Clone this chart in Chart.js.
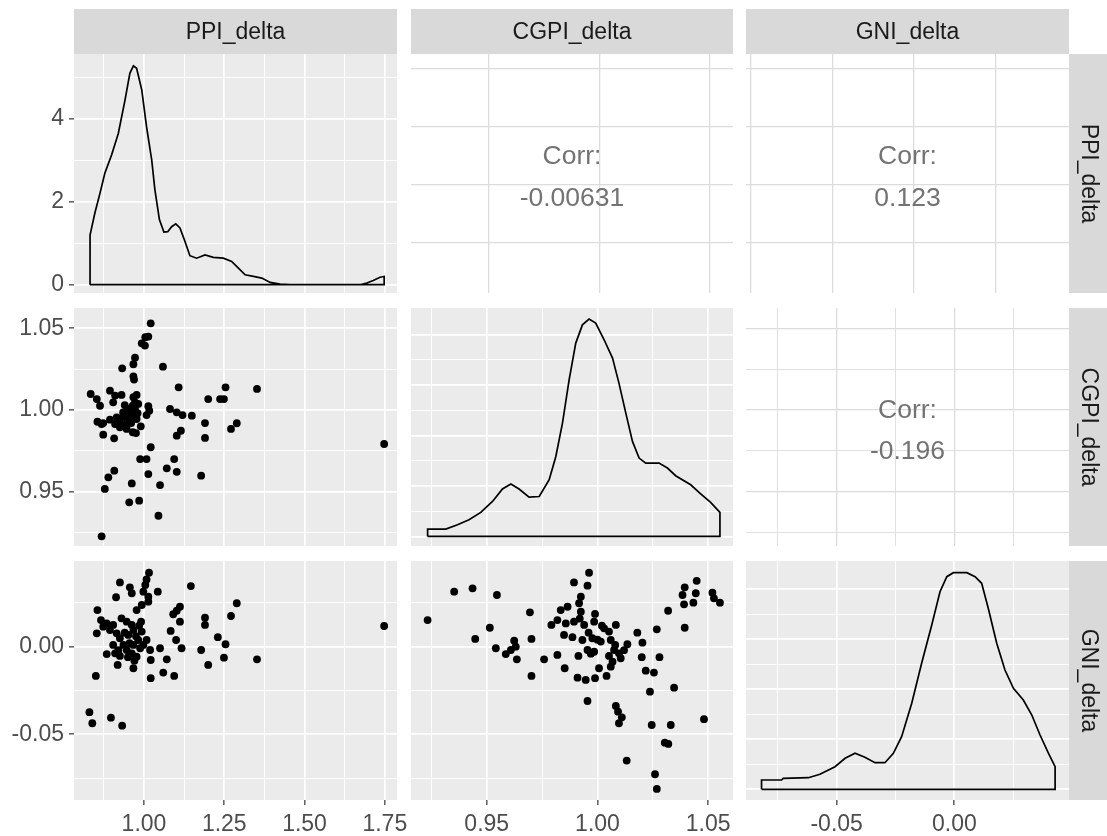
<!DOCTYPE html>
<html>
<head>
<meta charset="utf-8">
<script src="https://cdn.jsdelivr.net/npm/chart.js@4.4.1/dist/chart.umd.min.js"></script>
<style>
  body { margin: 0; background: #fff; }
  #wrap { position: relative; width: 1107px; height: 836px; }
  #wrap canvas { position: absolute; left: 0; top: 0; }
</style>
</head>
<body>
<div id="wrap"></div>
<script>
// ---------- data ----------
const varNames = ['PPI_delta', 'CGPI_delta', 'GNI_delta'];
const corrValues = ['-0.00631', '0.123', '-0.196']; // PPI~CGPI, PPI~GNI, CGPI~GNI

const ppiBreaks = [1.00, 1.25, 1.50, 1.75];
const ppiLabels = ['1.00', '1.25', '1.50', '1.75'];
const ppiMinor = [0.875, 1.125, 1.375, 1.625];
const cgpiBreaks = [0.95, 1.00, 1.05];
const cgpiLabels = ['0.95', '1.00', '1.05'];
const cgpiMinor = [0.925, 0.975, 1.025];
const gniBreaks = [-0.05, 0.00];
const gniLabels = ['-0.05', '0.00'];
const gniMinor = [-0.075, -0.025, 0.025];
const densBreaks = [0, 2, 4];
const densLabels = ['0', '2', '4'];
const densMinor = [1, 3, 5];
const dens2Breaks = [0, 5, 10, 15, 20];
const dens2Minor = [2.5, 7.5, 12.5, 17.5];

// diagonal densities
const ppiDensX = [0.832, 0.847, 0.863, 0.878, 0.899, 0.920, 0.941, 0.956, 0.967, 0.977, 0.993, 1.008, 1.024, 1.034, 1.048, 1.062, 1.074, 1.086, 1.099, 1.112, 1.126, 1.143, 1.164, 1.190, 1.216, 1.247, 1.273, 1.294, 1.315, 1.341, 1.367, 1.393, 1.424, 1.455, 1.673, 1.694, 1.714, 1.735, 1.748];
const ppiDensY = [1.20, 1.73, 2.21, 2.69, 3.13, 3.65, 4.46, 5.10, 5.28, 5.22, 4.70, 3.81, 3.01, 2.29, 1.57, 1.27, 1.28, 1.40, 1.47, 1.37, 1.08, 0.70, 0.64, 0.72, 0.66, 0.64, 0.56, 0.40, 0.24, 0.20, 0.16, 0.055, 0.016, 0, 0, 0.04, 0.10, 0.18, 0.20];

const cgpiDensX = [0.9233, 0.9315, 0.9368, 0.9420, 0.9473, 0.9526, 0.9571, 0.9609, 0.9646, 0.9691, 0.9737, 0.9782, 0.9812, 0.9842, 0.9872, 0.9902, 0.9932, 0.9962, 0.9992, 1.0030, 1.0068, 1.0097, 1.0128, 1.0158, 1.0188, 1.0218, 1.0278, 1.0316, 1.0353, 1.0421, 1.0466, 1.0511, 1.0553];
const cgpiDensY = [0.73, 0.73, 1.16, 1.65, 2.38, 3.47, 4.70, 5.19, 4.70, 3.90, 3.96, 5.62, 7.93, 11.24, 15.53, 19.17, 20.98, 21.55, 21.15, 19.50, 17.68, 15.20, 12.23, 9.42, 7.77, 7.27, 7.27, 6.78, 6.02, 5.12, 4.23, 3.37, 2.38];

const gniDensX = [-0.0819, -0.0734, -0.0727, -0.0620, -0.0571, -0.0507, -0.0464, -0.0422, -0.0380, -0.0337, -0.0295, -0.0259, -0.0224, -0.0181, -0.0139, -0.0096, -0.0061, -0.0032, -0.0004, 0.0053, 0.0088, 0.0116, 0.0144, 0.0180, 0.0215, 0.0251, 0.0293, 0.0329, 0.0364, 0.0400, 0.0428];
const gniDensY = [0.93, 0.93, 1.10, 1.16, 1.50, 2.26, 3.10, 3.60, 3.20, 2.66, 2.66, 3.60, 5.26, 8.60, 12.60, 16.43, 19.76, 21.26, 21.66, 21.66, 21.26, 20.60, 18.10, 14.60, 11.93, 10.10, 8.93, 7.43, 5.43, 3.60, 2.26];

// lower panels: [x, y]
const ppiVsCgpi = [[1.021,1.053],[1.0135,1.0449],[1.004,1.0445],[0.993,1.0408],[1.003,1.0394],[0.972,1.032],[0.967,1.028],[0.932,1.0255],[1.059,1.0265],[0.967,1.0206],[0.969,1.0186],[1.108,1.0139],[1.254,1.0139],[1.352,1.0129],[1.200,1.0067],[1.237,1.0067],[1.249,1.0067],[0.834,1.0098],[0.853,1.0067],[0.863,1.0026],[0.894,1.0118],[0.910,1.0088],[0.930,1.0092],[0.904,1.0047],[0.977,1.0092],[0.972,1.0047],[0.962,1.0017],[1.0135,1.0023],[1.0165,0.9996],[1.008,0.9969],[1.081,1.0006],[1.102,0.9986],[1.120,0.9969],[1.149,0.9965],[0.855,0.9928],[0.873,0.992],[0.894,0.9941],[0.915,0.9955],[0.925,0.9935],[0.941,0.9965],[0.951,0.9986],[0.956,0.9935],[0.946,0.9914],[0.930,0.9908],[0.910,0.9914],[0.967,0.9965],[0.972,1.0006],[0.982,1.0037],[0.873,0.9849],[0.907,0.9827],[0.965,0.9864],[0.975,0.9859],[0.990,0.990],[1.190,0.992],[1.190,0.9829],[1.271,0.9884],[1.289,0.9919],[1.115,0.9873],[1.102,0.9843],[1.021,0.9772],[0.988,0.970],[1.008,0.970],[1.094,0.970],[1.071,0.9643],[1.102,0.9622],[1.0135,0.9608],[1.178,0.9598],[0.9075,0.9629],[0.889,0.9588],[0.878,0.9517],[0.962,0.9551],[1.050,0.9541],[0.954,0.9435],[0.985,0.9445],[1.045,0.9353],[0.868,0.9227],[1.748,0.9792],[0.920,0.9935],[0.936,0.9955],[0.959,0.9976],[0.965,1.0026],[0.977,0.9945],[0.946,0.9884],[0.925,0.9894],[0.967,1.0078],[0.868,0.9914],[0.950,1.0000],[0.960,0.9920],[0.940,1.0030],[0.980,0.9980],[0.955,0.9960],[0.935,0.9985]];

const ppiVsGni = [[1.0156,0.0422],[1.008,0.0384],[1.004,0.0352],[0.925,0.0367],[0.956,0.0339],[0.962,0.0305],[0.913,0.0282],[0.998,0.0314],[1.0135,0.0285],[1.043,0.0314],[1.146,0.0346],[1.0135,0.0257],[0.993,0.0238],[0.977,0.0209],[0.855,0.0209],[1.289,0.0248],[1.112,0.0228],[1.102,0.0205],[1.091,0.0185],[1.271,0.0175],[1.190,0.0165],[1.190,0.0124],[1.112,0.0143],[0.991,0.0143],[0.866,0.0152],[0.884,0.0133],[0.904,0.0124],[0.930,0.0162],[0.946,0.0143],[1.748,0.0118],[0.853,0.0076],[1.083,0.0090],[1.230,0.0054],[1.100,0.0038],[1.254,0.0014],[1.117,-0.0009],[1.050,-0.0009],[1.178,-0.0019],[1.008,0.0038],[1.019,-0.0019],[1.021,-0.0076],[1.071,-0.0072],[1.249,-0.0063],[1.352,-0.0072],[1.200,-0.0104],[0.918,-0.0104],[0.967,-0.0123],[1.060,-0.0148],[1.094,-0.0167],[1.021,-0.018],[0.850,-0.0167],[0.884,-0.0042],[0.910,-0.0038],[0.925,-0.0053],[0.946,-0.0019],[0.962,-0.0038],[0.977,-0.0057],[0.988,-0.0009],[0.904,0.001],[0.925,0.0048],[0.951,0.0067],[0.967,0.0095],[0.982,0.0038],[0.936,0.001],[0.967,0.001],[0.998,0.001],[0.830,-0.0374],[0.839,-0.0437],[0.897,-0.0405],[0.932,-0.0451],[0.873,0.0114],[0.894,0.0095],[0.915,0.0076],[0.962,0.0124],[0.993,0.0086],[0.940,0.0080],[0.955,0.0020],[0.975,0.0060],[0.985,0.0120],[0.920,-0.0020],[0.950,-0.0060],[0.970,-0.0080]];

const cgpiVsGni = [[0.9962,0.0422],[0.9894,0.0367],[0.9955,0.0348],[0.9353,0.0314],[0.9436,0.0333],[0.9546,0.0295],[0.9925,0.0285],[0.9917,0.0248],[1.0448,0.0376],[1.0394,0.0339],[1.0384,0.0295],[1.0444,0.0305],[1.0519,0.0308],[1.0526,0.0276],[1.0553,0.0251],[1.0433,0.0251],[1.0391,0.0242],[1.0319,0.0205],[0.9695,0.0196],[0.9834,0.0209],[0.9865,0.0228],[0.9925,0.0200],[0.9989,0.0187],[0.9233,0.0152],[0.9514,0.0108],[0.9792,0.0124],[0.9819,0.0152],[0.9857,0.0133],[0.9894,0.0143],[0.9940,0.0124],[0.9985,0.0143],[1.0030,0.0105],[1.0083,0.0124],[1.0052,0.0086],[1.0268,0.0099],[1.0394,0.0108],[1.0180,0.0080],[0.9448,0.0044],[0.9702,0.0044],[0.9849,0.0067],[0.9887,0.0054],[0.9932,0.0038],[0.9977,0.0048],[1.0015,0.0029],[1.0060,0.0038],[1.0203,0.0023],[1.0135,0.0014],[0.9624,0.0034],[0.9541,-0.0009],[0.9631,0.0000],[0.9609,-0.0019],[0.9586,-0.0042],[0.9636,-0.0072],[0.9759,-0.0072],[0.9819,-0.0047],[0.9914,-0.0053],[0.9955,-0.0019],[0.9985,-0.0029],[1.0075,-0.0019],[1.0097,-0.0038],[1.0052,-0.0053],[1.0105,-0.0066],[1.0068,-0.0086],[1.0200,-0.0060],[1.0280,-0.0060],[0.9852,-0.0123],[1.0007,-0.0123],[1.0060,-0.0114],[1.0218,-0.0137],[1.0255,-0.0148],[0.9702,-0.0167],[0.9910,-0.0177],[0.9947,-0.0190],[0.9989,-0.0180],[1.0041,-0.0167],[1.0346,-0.0234],[1.0237,-0.0257],[0.9955,-0.0310],[1.0083,-0.0338],[1.0093,-0.0371],[1.0110,-0.0403],[1.0097,-0.0437],[1.0245,-0.0447],[1.0331,-0.0447],[1.0481,-0.0414],[1.0304,-0.0548],[1.0320,-0.0555],[1.0132,-0.0650],[1.0260,-0.0728],[1.0268,-0.0812],[0.9960,0.0080],[1.0000,0.0040],[0.9970,-0.0040],[1.0020,0.0120],[0.9920,0.0160],[1.0080,0.0010],[1.0120,-0.0020]];

// ---------- layout ----------
const W = 1107, H = 836;
const cols = [[74, 397], [411, 733], [746, 1069]];
const rows = [[54, 293], [308, 546], [561, 800]];
const FONT = "'Liberation Sans', Arial, Helvetica, sans-serif";

// axis descriptions (range is the panel extent in data units)
const axPpi = { range: [0.782, 1.788], breaks: ppiBreaks, labels: ppiLabels, minor: ppiMinor };
const axCgpiX = { range: [0.9158, 1.0612], breaks: cgpiBreaks, labels: cgpiLabels, minor: cgpiMinor };
const axCgpiY = { range: [0.9168, 1.0624], breaks: cgpiBreaks, labels: cgpiLabels, minor: cgpiMinor };
const axGniX = { range: [-0.0885, 0.0487], breaks: gniBreaks, labels: gniLabels, minor: gniMinor };
const axGniY = { range: [-0.0875, 0.0489], breaks: gniBreaks, labels: gniLabels, minor: gniMinor };
const axPpiDens = { range: [-0.2, 5.566], breaks: densBreaks, labels: densLabels, minor: densMinor };
const axCgpiDens = { range: [-0.95, 22.65], breaks: dens2Breaks, labels: [], minor: dens2Minor };
const axGniDens = { range: [-1.07, 22.83], breaks: dens2Breaks, labels: [], minor: dens2Minor };
// the text panels carry their own grids
const axPpiCorr = { range: [0.785, 1.811], breaks: ppiBreaks, labels: [], minor: [] };
const axCgpiCorr = { range: [0.9147, 1.0604], breaks: cgpiBreaks, labels: [], minor: [] };
const axTextGrid = { range: [-0.058, 3.905], breaks: [0, 1, 2, 3], labels: [], minor: [] };

function scaleOpts(ax, isX, showLabels, upper) {
  return {
    type: 'linear',
    position: isX ? 'bottom' : 'left',
    min: ax.range[0],
    max: ax.range[1],
    border: { display: false },
    grid: {
      color: upper ? '#DCDCDC' : '#FFFFFF',
      lineWidth: c => (c.tick && c.tick.isMinor) ? 0.9 : (upper ? 1.3 : 1.7),
      drawTicks: showLabels,
      tickLength: 5,
      tickWidth: 1.2,
      tickColor: c => (c.tick && c.tick.isMinor) ? 'rgba(0,0,0,0)' : '#333333'
    },
    ticks: {
      display: showLabels,
      autoSkip: false,
      maxRotation: 0,
      minRotation: 0,
      padding: isX ? 6 : 5,
      color: '#4D4D4D',
      font: { family: FONT, size: 23 },
      callback: (v, i, ts) => ts[i].lbl || ''
    },
    afterBuildTicks: s => {
      const t = ax.breaks.map((v, i) => ({ value: v, lbl: ax.labels[i] || '' }));
      ax.minor.forEach(v => t.push({ value: v, isMinor: true, lbl: '' }));
      s.ticks = t;
    },
    afterFit: s => {
      if (isX) s.height = showLabels ? 36 : 0;
      else s.width = showLabels ? 74 : 0;
      s.paddingLeft = 0; s.paddingRight = 0; s.paddingTop = 0; s.paddingBottom = 0;
    }
  };
}

const panelBg = {
  id: 'panelBg',
  beforeDraw(chart, args, opts) {
    const { ctx, chartArea: a } = chart;
    ctx.save();
    ctx.fillStyle = opts.color;
    ctx.fillRect(a.left, a.top, a.right - a.left, a.bottom - a.top);
    ctx.restore();
  }
};

const decor = {
  id: 'decor',
  afterDraw(chart, args, opts) {
    const { ctx, chartArea: a } = chart;
    ctx.save();
    ctx.textAlign = 'center';
    ctx.textBaseline = 'middle';
    if (opts.top) {
      ctx.fillStyle = '#D9D9D9';
      ctx.fillRect(a.left, 9, a.right - a.left, a.top - 9);
      ctx.fillStyle = '#1A1A1A';
      ctx.font = '23px ' + FONT;
      ctx.fillText(opts.top, (a.left + a.right) / 2, (9 + a.top) / 2 + 1);
    }
    if (opts.right) {
      ctx.fillStyle = '#D9D9D9';
      ctx.fillRect(a.right, a.top, W - a.right, a.bottom - a.top);
      ctx.fillStyle = '#1A1A1A';
      ctx.font = '23px ' + FONT;
      ctx.translate((a.right + W) / 2, (a.top + a.bottom) / 2);
      ctx.rotate(Math.PI / 2);
      ctx.fillText(opts.right, 0, 0);
      ctx.setTransform(1, 0, 0, 1, 0, 0);
    }
    if (opts.corr) {
      const cx = (a.left + a.right) / 2, cy = (a.top + a.bottom) / 2;
      ctx.fillStyle = '#737373';
      ctx.font = '26.5px ' + FONT;
      ctx.fillText('Corr:', cx, cy - 16.5);
      ctx.fillText(opts.corr, cx, cy + 25);
    }
    ctx.restore();
  }
};

function densityPath(xs, ys) {
  const pts = [{ x: xs[0], y: 0 }];
  xs.forEach((x, i) => pts.push({ x: x, y: ys[i] }));
  pts.push({ x: xs[xs.length - 1], y: 0 });
  pts.push({ x: xs[0], y: 0 });
  return pts;
}

function densitySet(xs, ys) {
  return {
    data: densityPath(xs, ys),
    showLine: true,
    borderColor: '#000000',
    borderWidth: 1.7,
    pointRadius: 0,
    fill: false,
    tension: 0
  };
}

function pointSet(pairs) {
  return {
    data: pairs.map(p => ({ x: p[0], y: p[1] })),
    showLine: false,
    pointRadius: 3.9,
    pointBorderWidth: 0,
    pointBackgroundColor: '#000000'
  };
}

function makePanel(r, c, xAx, yAx, datasets, upper, corr) {
  const canvas = document.createElement('canvas');
  canvas.width = W; canvas.height = H;
  document.getElementById('wrap').appendChild(canvas);
  new Chart(canvas, {
    type: 'scatter',
    data: { datasets: datasets },
    plugins: [panelBg, decor],
    options: {
      responsive: false,
      animation: false,
      devicePixelRatio: 1,
      events: [],
      layout: {
        autoPadding: false,
        padding: {
          left: c === 0 ? 0 : cols[c][0],
          right: W - cols[c][1],
          top: rows[r][0],
          bottom: H - rows[r][1] - (r === 2 ? 36 : 0)
        }
      },
      scales: {
        x: scaleOpts(xAx, true, r === 2, upper),
        y: scaleOpts(yAx, false, c === 0, upper)
      },
      plugins: {
        legend: { display: false },
        tooltip: { enabled: false },
        panelBg: { color: upper ? '#FFFFFF' : '#EBEBEB' },
        decor: {
          top: r === 0 ? varNames[c] : null,
          right: c === 2 ? varNames[r] : null,
          corr: corr || null
        }
      }
    }
  });
}

// row 1
makePanel(0, 0, axPpi, axPpiDens, [densitySet(ppiDensX, ppiDensY)], false);
makePanel(0, 1, axCgpiCorr, axPpiCorr, [], true, corrValues[0]);
makePanel(0, 2, axTextGrid, axPpiCorr, [], true, corrValues[1]);
// row 2
makePanel(1, 0, axPpi, axCgpiY, [pointSet(ppiVsCgpi)], false);
makePanel(1, 1, axCgpiX, axCgpiDens, [densitySet(cgpiDensX, cgpiDensY)], false);
makePanel(1, 2, axGniX, axCgpiY, [], true, corrValues[2]);
// row 3
makePanel(2, 0, axPpi, axGniY, [pointSet(ppiVsGni)], false);
makePanel(2, 1, axCgpiX, axGniY, [pointSet(cgpiVsGni)], false);
makePanel(2, 2, axGniX, axGniDens, [densitySet(gniDensX, gniDensY)], false);
</script>
</body>
</html>
